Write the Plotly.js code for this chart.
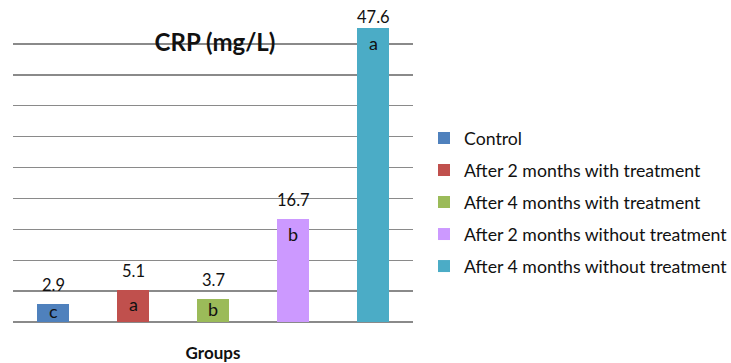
<!DOCTYPE html>
<html>
<head>
<meta charset="utf-8">
<script src="https://cdn.plot.ly/plotly-3.0.1.min.js"></script>
<style>
  html, body { margin: 0; padding: 0; background: #ffffff; }
  #chart { width: 731px; height: 363px; }
</style>
</head>
<body>
<div id="chart"></div>
<script>
// CRP concentration (mg/L) per study group
const groups = [
  "Control",
  "After 2 months with treatment",
  "After 4 months with treatment",
  "After 2 months without treatment",
  "After 4 months without treatment"
];
const crpValues = [2.9, 5.1, 3.7, 16.7, 47.6];
const significanceLetters = ["c", "a", "b", "b", "a"];
const barColors = ["#4F81BD", "#C0504D", "#9BBB59", "#CC99FF", "#4BACC6"];
const yMax = 50;
const yStep = 5;

const FONT = "Lato, 'Open Sans', sans-serif";
const plotTop = 13, plotBottom = 322;
const pxPerUnit = (plotBottom - plotTop) / yMax;

const traces = groups.map((g, i) => ({
  type: "bar",
  x: [g],
  y: [crpValues[i]],
  name: g,
  legendgroup: "g" + i,
  width: 0.41,
  marker: { color: barColors[i], line: { width: 0 } },
  hoverinfo: "x+y"
}));

const annotations = [];
groups.forEach((g, i) => {
  const v = crpValues[i];
  const barPx = v * pxPerUnit;
  // keep the value label inside the plot when the bar nearly reaches the top
  const room = (yMax - v) * pxPerUnit;
  const lift = Math.min(7, room - 16);
  annotations.push({
    x: g, y: v, xref: "x", yref: "y",
    text: v.toFixed(1),
    showarrow: false,
    yanchor: "bottom",
    yshift: lift,
    font: { family: FONT, size: 16.5, color: "#111111" }
  });
  // letter sits near the top of the bar, centred in short bars
  annotations.push({
    x: g, y: v, xref: "x", yref: "y",
    text: significanceLetters[i],
    showarrow: false,
    yanchor: "middle",
    yshift: -Math.min(17, barPx / 2) + 2,
    font: { family: FONT, size: 18, color: "#111111" }
  });
});

const layout = {
  width: 731,
  height: 363,
  margin: { l: 13, r: 318, t: plotTop, b: 363 - plotBottom, pad: 0 },
  paper_bgcolor: "#ffffff",
  plot_bgcolor: "#ffffff",
  font: { family: FONT, color: "#111111" },
  barmode: "overlay",
  bargap: 0,
  showlegend: true,
  title: {
    text: "<b>CRP (mg/L)</b>",
    font: { family: FONT, size: 24, color: "#111111" },
    xref: "paper", x: 0.505, xanchor: "center",
    yref: "container", y: 1 - 43 / 363, yanchor: "middle"
  },
  xaxis: {
    type: "category",
    categoryorder: "array",
    categoryarray: groups,
    showticklabels: false,
    ticks: "",
    showgrid: false,
    showline: false,
    zeroline: false,
    title: {
      text: "<b>Groups</b>",
      font: { family: FONT, size: 17, color: "#111111" },
      standoff: 29
    }
  },
  yaxis: {
    range: [0, yMax],
    dtick: yStep,
    tick0: 0,
    showticklabels: false,
    ticks: "",
    showgrid: true,
    gridcolor: "#8a8a8a",
    gridwidth: 1.4,
    zeroline: true,
    zerolinecolor: "#8a8a8a",
    zerolinewidth: 1.4,
    showline: false
  },
  legend: {
    xref: "container", x: 424 / 731, xanchor: "left",
    yref: "container", y: 1 - 120 / 363, yanchor: "top",
    font: { family: FONT, size: 17.7, color: "#111111" },
    traceorder: "grouped",
    tracegroupgap: 6,
    itemclick: false,
    bgcolor: "rgba(0,0,0,0)"
  },
  annotations: annotations
};

Plotly.newPlot("chart", traces, layout, { displayModeBar: false, staticPlot: true });
</script>
</body>
</html>
